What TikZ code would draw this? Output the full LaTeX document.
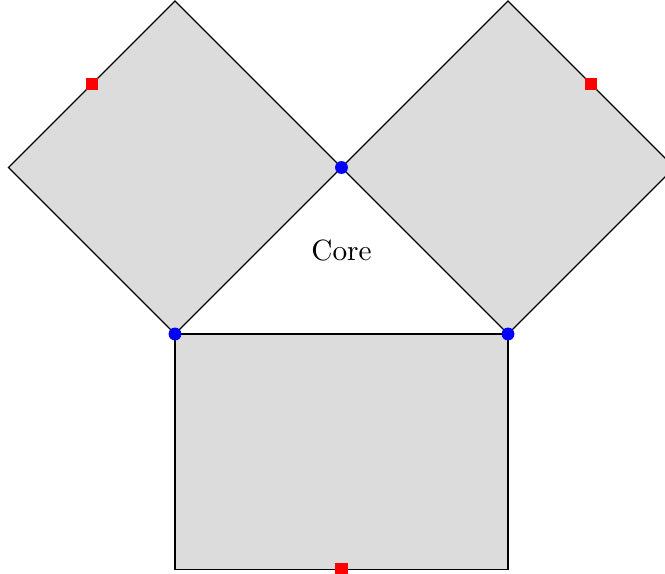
\documentclass[tikz,border=0pt]{standalone}
\usepackage{tikz}
\usetikzlibrary{calc}
\definecolor{sqfill}{RGB}{220,220,220}
\def\hypw{4}
\def\legh{2.83}

\begin{document}
\begin{tikzpicture}[
    side/.style={draw=black, fill=sqfill},
    corner/.style={fill=blue},
    midmark/.style={fill=red}
  ]
		\useasboundingbox (-2.102,-2.871) rectangle (5.886,4.012);
		% core triangle
		\coordinate (a) at (0,0);
		\coordinate (b) at (\hypw,0);
		\coordinate (c) at (\hypw/2,\hypw/2);
		% outer corners
		\coordinate (l1) at (-2,2);
		\coordinate (l2) at (0,4);
		\coordinate (r1) at (4,4);
		\coordinate (r2) at (6,2);
		\coordinate (d1) at (\hypw,-\legh);
		\coordinate (d2) at (0,-\legh);
		\draw[side] (a) -- (c) -- (l2) -- (l1) -- cycle;
		\draw[side] (c) -- (b) -- (r2) -- (r1) -- cycle;
		\draw[side] (a) -- (b) -- (d1) -- (d2) -- cycle;
		\node (core) at (\hypw/2,1) {Core};
		% markers
		\foreach \p in {a,b,c}
			\fill[corner] (\p) circle (2.2pt);
		\coordinate (m1) at ($(l1)!0.5!(l2)$);
		\coordinate (m2) at ($(r1)!0.5!(r2)$);
		\coordinate (m3) at ($(d1)!0.5!(d2)$);
		\foreach \p in {m1,m2,m3}
			\fill[midmark] ($(\p)+(-2.1pt,-2.1pt)$) rectangle ($(\p)+(2.1pt,2.1pt)$);
	\end{tikzpicture}
\end{document}
